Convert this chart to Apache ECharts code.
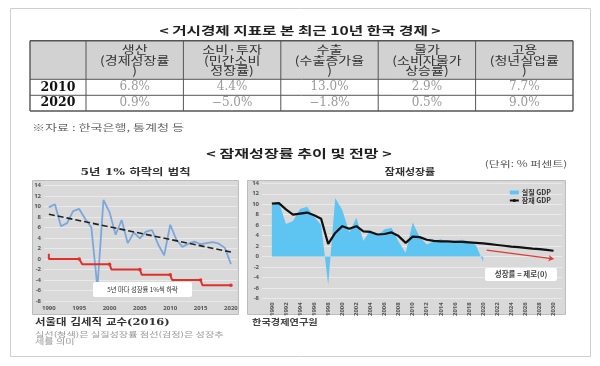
<!DOCTYPE html>
<html><head><meta charset="utf-8">
<script src="https://cdn.jsdelivr.net/npm/echarts@6/dist/echarts.min.js"></script>
<style>html,body{margin:0;padding:0;background:#fff}#c{width:600px;height:366px}</style>
</head><body><div id="c"></div><script>
// ---- Table data ----
const tableHeaders = ['생산\n(경제성장률\n)', '소비·투자\n(민간소비\n성장률)', '수출\n(수출증가율\n)', '물가\n(소비자물가\n상승률)', '고용\n(청년실업률\n)'];
const tableYears = ['2010', '2020'];
const values2010 = ['6.8%', '4.4%', '13.0%', '2.9%', '7.7%'];
const values2020 = ['0.9%', '−5.0%', '−1.8%', '0.5%', '9.0%'];

// ---- Chart data ----
const years = [1990,1991,1992,1993,1994,1995,1996,1997,1998,1999,2000,2001,2002,2003,2004,2005,2006,2007,2008,2009,2010,2011,2012,2013,2014,2015,2016,2017,2018,2019,2020];
const realGrowth = [9.8,10.4,6.2,6.8,9.1,9.5,7.6,6.0,-5.4,11.2,8.9,4.6,7.4,3.0,5.0,3.9,5.2,5.5,2.8,0.7,6.5,3.7,2.3,2.9,3.3,2.8,3.0,3.2,2.9,2.1,-1.0];
const trendYears = [1990, 2020];
const trendValues = [8.5, 1.3];
const stepYears = [1990,1990,1995,1995.5,2000,2000.3,2005,2005.3,2010,2010.3,2015,2015.3,2020];
const stepValues = [1,0,0,-1,-1,-2,-2,-3,-3,-4,-4,-5,-5];
const stepMarkerYears = [1995,2000,2005,2010,2015,2020];
const leftXTicks = [1990,1995,2000,2005,2010,2015,2020];

const potYears = [1990,1991,1992,1993,1994,1995,1996,1997,1998,1999,2000,2001,2002,2003,2004,2005,2006,2007,2008,2009,2010,2011,2012,2013,2014,2015,2016,2017,2018,2019,2020,2021,2022,2023,2024,2025,2026,2027,2028,2029,2030];
const potGrowth = [10.1,10.2,9.0,8.0,8.2,8.4,7.9,7.2,2.4,4.5,5.8,5.3,5.8,4.8,4.7,4.2,4.3,4.6,3.9,2.6,3.8,3.7,3.2,3.0,2.9,2.9,2.8,2.8,2.7,2.6,2.5,2.35,2.2,2.05,1.9,1.8,1.65,1.5,1.4,1.25,1.1];
const rightXTicks = [1990,1992,1994,1996,1998,2000,2002,2004,2006,2008,2010,2012,2014,2016,2018,2020,2022,2024,2026,2028,2030];
const forecastArrowYears = [2020.5, 2030];
const forecastArrowValues = [1.2, -0.45];

const KR = '"Noto Sans CJK KR", "Noto Sans", sans-serif';
const SERIF = '"DejaVu Serif", "Noto Sans CJK KR", serif';

const chart = echarts.init(document.getElementById('c'), null, {renderer: 'canvas'});

// ---- graphic: table & texts ----
const g = [];
g.push({type:'rect', z:-20, shape:{x:10.5,y:8.5,width:580,height:348}, style:{fill:'#fff', stroke:'#cfcfcf', lineWidth:1}});
function txt(x, y, text, opt) {
  opt = opt || {};
  g.push({type:'text', x:x, y:y, z: opt.z || 5, scaleX: opt.sx || 1,
    style:{text:text, fontSize:opt.size||10, fontFamily:opt.font||KR, fontWeight:opt.weight||'normal',
      fill:opt.color||'#333', align:opt.align||'center', verticalAlign:'middle', lineHeight:opt.lh}});
}
txt(300, 31, '< 거시경제 지표로 본 최근 10년 한국 경제 >', {size:11.5, weight:'bold', sx:1.36, color:'#222'});

const colX = [30, 86, 183.4, 280.8, 378.2, 475.6, 573];
const rowY = [40.7, 79.3, 95.3, 111];
g.push({type:'rect', z:-5, shape:{x:colX[0], y:rowY[0], width:colX[6]-colX[0], height:rowY[1]-rowY[0]}, style:{fill:'#d2d2d2'}});
colX.forEach((x, i) => {
  const w = (i === 0 || i === colX.length - 1) ? 1.4 : 1;
  g.push({type:'line', z:-4, shape:{x1:x, y1:rowY[0], x2:x, y2:rowY[3]}, style:{stroke:'#555', lineWidth:w}});
});
rowY.forEach((y, i) => {
  const w = (i === 0 || i === rowY.length - 1) ? 1.4 : 1;
  g.push({type:'line', z:-4, shape:{x1:colX[0], y1:y, x2:colX[6], y2:y}, style:{stroke:'#555', lineWidth:w}});
});
tableHeaders.forEach((h, i) => {
  txt((colX[i+1] + colX[i+2]) / 2, 60.5, h, {size:11.5, sx:1.22, color:'#333', lh:10.6});
});
[values2010, values2020].forEach((vals, r) => {
  const cy = (rowY[r+1] + rowY[r+2]) / 2;
  txt((colX[0] + colX[1]) / 2, cy, tableYears[r], {size:12.5, weight:'bold', font:SERIF, color:'#111'});
  vals.forEach((v, i) => {
    txt((colX[i+1] + colX[i+2]) / 2, cy, v, {size:12, font:SERIF, color:'#9a9a9a'});
  });
});
txt(32, 127.5, '※자료 : 한국은행, 통계청 등', {size:9, sx:1.45, color:'#666', align:'left'});
txt(299, 154, '< 잠재성장률 추이 및 전망 >', {size:11.5, weight:'bold', sx:1.4, color:'#222'});
txt(526, 163.5, '(단위: % 퍼센트)', {size:8.5, sx:1.4, color:'#555'});
txt(135.5, 173, '5년 1% 하락의 법칙', {size:9.5, weight:'bold', sx:1.3, color:'#333', font:SERIF});
txt(410, 173, '잠재성장률', {size:9.5, weight:'bold', sx:1.15, color:'#333', font:SERIF});

// chart boxes
g.push({type:'rect', z:-10, shape:{x:32.5,y:180.5,width:206,height:134}, style:{fill:'#d9d9d9', stroke:'#bdbdbd', lineWidth:1}});
g.push({type:'rect', z:-10, shape:{x:247.5,y:180.5,width:318,height:134}, style:{fill:'#d9d9d9', stroke:'#bdbdbd', lineWidth:1}});

// annotation boxes
g.push({type:'rect', z:50, shape:{x:93,y:282,width:99,height:15, r:2}, style:{fill:'#fff'}});
txt(142.5, 289.5, '5년 마다 성장률 1%씩 하락', {size:6.3, color:'#333', z:51});
g.push({type:'rect', z:50, shape:{x:485,y:268,width:72,height:13, r:2}, style:{fill:'#fff'}});
txt(521, 274.5, '성장률 = 제로(0)', {size:7.5, weight:'bold', color:'#444', z:51});

// footers
txt(35, 322.5, '서울대 김세직 교수(2016)', {size:9, weight:'bold', sx:1.27, color:'#333', font:SERIF, align:'left'});
txt(35, 334, '실선(청색)은 실질성장률 점선(검정)은 성장추', {size:7, sx:1.45, color:'#9a9a9a', align:'left'});
txt(35, 341, '세를 의미', {size:7, sx:1.45, color:'#9a9a9a', align:'left'});
txt(252, 322, '한국경제연구원', {size:8.5, weight:'bold', sx:1.2, color:'#444', align:'left'});

const axisLbl = {fontSize:6, fontWeight:'bold', color:'#555', fontFamily:'"Noto Sans", sans-serif'};

const option = {
  animation: false,
  backgroundColor: '#fff',
  graphic: {elements: g},
  grid: [
    {left:44, right:363, top:185.3, bottom:65, containLabel:false},
    {left:262, right:38, top:183.3, bottom:67.7, containLabel:false}
  ],
  xAxis: [
    {type:'value', gridIndex:0, min:1989.2, max:2021,
      axisLine:{show:false}, axisTick:{show:false}, splitLine:{show:false},
      axisLabel:Object.assign({customValues:leftXTicks, margin:4, formatter:v => String(v)}, axisLbl)},
    {type:'value', gridIndex:1, min:1988.6, max:2031.2,
      axisLine:{show:false}, axisTick:{show:false}, splitLine:{show:false},
      axisLabel:Object.assign({customValues:rightXTicks, rotate:90, margin:4, formatter:v => String(v)}, axisLbl)}
  ],
  yAxis: [
    {type:'value', gridIndex:0, min:-8, max:14, interval:2,
      axisLine:{show:false}, axisTick:{show:false},
      splitLine:{lineStyle:{color:'#e9e9e9', width:1}},
      axisLabel:Object.assign({margin:3}, axisLbl)},
    {type:'value', gridIndex:1, min:-8, max:14, interval:2,
      axisLine:{show:false}, axisTick:{show:false},
      splitLine:{lineStyle:{color:'#e9e9e9', width:1}},
      axisLabel:Object.assign({margin:3}, axisLbl)}
  ],
  legend: {
    orient:'vertical', right:44, top:184, itemWidth:9, itemHeight:4, itemGap:1,
    textStyle:{fontSize:7, fontWeight:'bold', color:'#333', fontFamily:KR, padding:[0,0,0,-2]},
    data:[{name:'실질 GDP', icon:'rect'}, {name:'잠재 GDP'}]
  },
  series: [
    {type:'line', name:'실질성장률', xAxisIndex:0, yAxisIndex:0, symbol:'none', z:3,
      data: years.map((y, i) => [y, realGrowth[i]]),
      lineStyle:{color:'#7ba7dc', width:1.8}},
    {type:'line', name:'추세', xAxisIndex:0, yAxisIndex:0, symbol:'none', z:4,
      data: trendYears.map((y, i) => [y, trendValues[i]]),
      lineStyle:{color:'#222', width:1.6, type:[6,3]}},
    {type:'line', name:'5년 1% 하락', xAxisIndex:0, yAxisIndex:0, z:4,
      symbol:'circle', showAllSymbol:true,
      itemStyle:{color:'#e0302a'},
      data: stepYears.map((y, i) => ({value:[y, stepValues[i]], symbolSize: stepMarkerYears.indexOf(y) >= 0 ? 3.5 : 0})),
      lineStyle:{color:'#e0302a', width:2}},
    {type:'line', name:'실질 GDP', xAxisIndex:1, yAxisIndex:1, symbol:'none', z:2,
      data: years.map((y, i) => [y, realGrowth[i]]),
      itemStyle:{color:'#5ec4f2'},
      lineStyle:{width:0, color:'#5ec4f2'},
      areaStyle:{color:'#5ec4f2', opacity:1}},
    {type:'line', name:'잠재 GDP', xAxisIndex:1, yAxisIndex:1, symbol:'none', z:4,
      data: potYears.map((y, i) => [y, potGrowth[i]]),
      itemStyle:{color:'#111'},
      lineStyle:{color:'#111', width:2.2},
      markLine:{silent:true, symbol:['none','arrow'], symbolSize:5, label:{show:false},
        lineStyle:{color:'#e03a32', width:1.2, type:'solid'},
        data:[[{coord:[forecastArrowYears[0], forecastArrowValues[0]]}, {coord:[forecastArrowYears[1], forecastArrowValues[1]]}]]}}
  ]
};
chart.setOption(option);
</script></body></html>
